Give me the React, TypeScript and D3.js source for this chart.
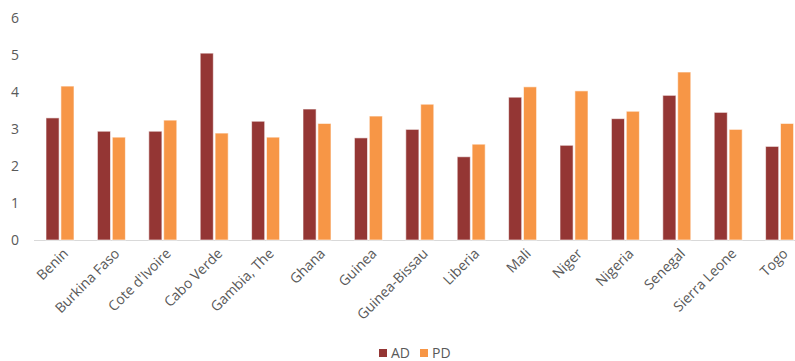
import * as d3 from 'd3'
import React, { useEffect, useRef } from 'react'

const countries = [
  'Benin', 'Burkina Faso', "Cote d'Ivoire", 'Cabo Verde', 'Gambia, The', 'Ghana', 'Guinea',
  'Guinea-Bissau', 'Liberia', 'Mali', 'Niger', 'Nigeria', 'Senegal', 'Sierra Leone', 'Togo',
]
const adValues = [3.3, 2.94, 2.94, 5.05, 3.21, 3.54, 2.76, 2.99, 2.25, 3.86, 2.56, 3.28, 3.91, 3.45, 2.53]
const pdValues = [4.16, 2.78, 3.24, 2.89, 2.78, 3.15, 3.35, 3.67, 2.59, 4.14, 4.03, 3.48, 4.54, 2.99, 3.15]
const seriesNames = ['AD', 'PD']
const seriesColors = ['#943634', '#F79646']
const yTicks = [0, 1, 2, 3, 4, 5, 6]

const W = 795
const H = 361

export default function App() {
  const svgRef = useRef<SVGSVGElement | null>(null)

  useEffect(() => {
    const svg = d3.select(svgRef.current)
    svg.selectAll('*').remove()

    const font = '"Open Sans", "Noto Sans", sans-serif'
    const x = d3.scaleBand().domain(countries).range([34, 805]).paddingInner(0).paddingOuter(0)
    const y = d3.scaleLinear().domain([0, 6]).range([240, 18])
    const inner = d3.scaleBand().domain(seriesNames).range([12, 40]).paddingInner(0.12)

    // y labels
    svg
      .append('g')
      .selectAll('text')
      .data(yTicks)
      .enter()
      .append('text')
      .attr('x', 19)
      .attr('y', (d) => y(d))
      .attr('dy', '0.36em')
      .attr('text-anchor', 'end')
      .style('font-family', font)
      .style('font-size', '14px')
      .style('fill', '#595959')
      .text((d) => d)

    // baseline
    svg
      .append('line')
      .attr('x1', 34)
      .attr('x2', W)
      .attr('y1', y(0) + 0.5)
      .attr('y2', y(0) + 0.5)
      .style('stroke', '#d9d9d9')
      .style('stroke-width', 1)

    const rows = countries.map((c, i) => ({ c, vals: [adValues[i], pdValues[i]] }))

    const groups = svg
      .append('g')
      .selectAll('g')
      .data(rows)
      .enter()
      .append('g')
      .attr('transform', (d) => `translate(${x(d.c)},0)`)

    groups
      .selectAll('rect')
      .data((d) => d.vals.map((v, k) => ({ v, k })))
      .enter()
      .append('rect')
      .attr('x', (d) => inner(seriesNames[d.k])!)
      .attr('width', inner.bandwidth())
      .attr('y', (d) => y(d.v))
      .attr('height', (d) => y(0) - y(d.v))
      .style('fill', (d) => seriesColors[d.k])
      .style('stroke', 'rgba(255,255,255,0.6)')
      .style('stroke-width', 1)

    // x labels
    svg
      .append('g')
      .selectAll('text')
      .data(countries)
      .enter()
      .append('text')
      .attr('transform', (d) => `translate(${x(d)! + x.bandwidth() / 2 + 2},247) rotate(-45)`)
      .attr('text-anchor', 'end')
      .attr('dy', '0.75em')
      .style('font-family', font)
      .style('font-size', '14px')
      .style('fill', '#595959')
      .text((d) => d)

    // legend
    const legend = svg
      .append('g')
      .selectAll('g')
      .data(seriesNames)
      .enter()
      .append('g')
      .attr('transform', (d, i) => `translate(${379 + i * 41},349)`)
    legend
      .append('rect')
      .attr('width', 8)
      .attr('height', 8)
      .style('fill', (d, i) => seriesColors[i])
    legend
      .append('text')
      .attr('x', 12)
      .attr('y', 4)
      .attr('dy', '0.36em')
      .style('font-family', font)
      .style('font-size', '14px')
      .style('fill', '#595959')
      .text((d) => d)
  }, [])

  return (
    <svg
      ref={svgRef}
      width={W}
      height={H}
      style={{ position: 'absolute', left: 0, top: 0, background: '#fff' }}
    ></svg>
  )
}
